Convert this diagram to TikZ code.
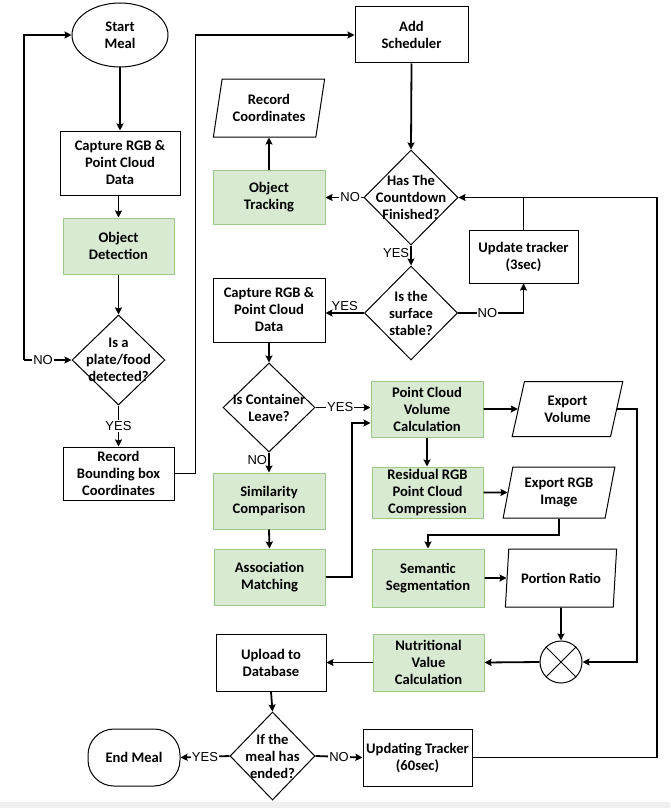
\documentclass[tikz,border=0pt]{standalone}
\usepackage{fontspec}
\setmainfont{Carlito}
\newfontfamily\labfont{Liberation Sans}
\usetikzlibrary{shapes.geometric,arrows.meta}
\definecolor{gfill}{RGB}{217,234,211}
\definecolor{gdraw}{RGB}{157,200,138}
\begin{document}
\begin{tikzpicture}[x=1pt,y=-1pt,
  txt/.style={font=\bfseries\fontsize{14.6}{17}\selectfont, align=center, inner sep=0pt},
  box/.style={txt, draw, line width=1pt, rectangle},
  gbox/.style={box, draw=gdraw, fill=gfill},
  io/.style={txt, draw, line width=1pt, trapezium, trapezium left angle=76, trapezium right angle=104, trapezium stretches=true},
  dia/.style={draw, line width=1pt, diamond, inner sep=0pt},
  ln/.style={line width=1.8pt},
  arr/.style={ln, -{Stealth[length=7pt,width=7pt,inset=1pt]}},
  lab/.style={font=\labfont\fontsize{13}{15}\selectfont, fill=white, inner sep=1pt}
]
\useasboundingbox (0,0) rectangle (670,808);
\fill[black!6] (0,802) rectangle (670,808);

% left column
\node[txt, draw, line width=1pt, ellipse, minimum width=96, minimum height=64] (start) at (120,35) {Start\\Meal};
\node[box, minimum width=120, minimum height=64] (cap1) at (120,163) {Capture RGB \&\\Point Cloud\\Data};
\node[gbox, minimum width=111, minimum height=56] (od) at (118.5,246) {Object\\Detection};
\node[dia, minimum width=93, minimum height=90] (d1) at (118.5,360) {};
\node[txt] (d1t) at (d1) {Is a\\plate/food\\detected?};
\node[box, minimum width=111, minimum height=53] (rbb) at (118.5,473.5) {Record\\Bounding box\\Coordinates};

% top middle
\node[box, minimum width=113, minimum height=56] (as) at (411.5,35) {Add\\Scheduler};
\node[dia, minimum width=94, minimum height=95] (d2) at (411,197.5) {};
\node[txt] (d2t) at (d2) {Has The\\Countdown\\Finished?};
\node[gbox, minimum width=112, minimum height=54] (ot) at (269,197.5) {Object\\Tracking};
\node[io, minimum width=112, minimum height=58] (rc) at (269,108) {Record\\Coordinates};
\node[box, minimum width=109, minimum height=53] (ut) at (523.5,256.5) {Update tracker\\(3sec)};
\node[dia, minimum width=93, minimum height=94] (d3) at (411,313) {};
\node[txt] (d3t) at (d3) {Is the\\surface\\stable?};

% middle column
\node[box, minimum width=112, minimum height=64] (cap2) at (269,310) {Capture RGB \&\\Point Cloud\\Data};
\node[dia, minimum width=92, minimum height=89] (d4) at (269,407.5) {};
\node[txt] (d4t) at (d4) {Is Container\\Leave?};
\node[gbox, minimum width=112, minimum height=56] (sim) at (269,501) {Similarity\\Comparison};
\node[gbox, minimum width=111, minimum height=56] (am) at (269.5,577) {Association\\Matching};

% right column
\node[gbox, minimum width=112, minimum height=56] (pcv) at (427,409) {Point Cloud\\Volume\\Calculation};
\node[io, minimum width=111, minimum height=55] (ev) at (567.5,409) {Export\\Volume};
\node[gbox, minimum width=111, minimum height=51] (res) at (427.5,492.5) {Residual RGB\\Point Cloud\\Compression};
\node[io, minimum width=112, minimum height=51] (ergb) at (559,492.5) {Export RGB\\Image};
\node[gbox, minimum width=112, minimum height=58] (sem) at (428,578) {Semantic\\Segmentation};
\node[io, minimum width=112, minimum height=58] (pr) at (561,578) {Portion Ratio};
\node[draw, line width=1pt, circle, minimum size=42, inner sep=0pt] (circ) at (561,662) {};
\draw[line width=1pt] (circ.north west) -- (circ.south east) (circ.north east) -- (circ.south west);
\node[gbox, minimum width=111, minimum height=57] (nvc) at (428.5,662.5) {Nutritional\\Value\\Calculation};

% bottom
\node[box, minimum width=110, minimum height=57] (up) at (271,662.5) {Upload to\\Database};
\node[dia, minimum width=85, minimum height=88] (d5) at (272.5,756) {};
\node[txt] (d5t) at (d5) {If the\\meal has\\ended?};
\node[box, rounded corners=26pt, minimum width=92, minimum height=57] (em) at (134,757.5) {End Meal};
\node[box, minimum width=109, minimum height=57] (utr) at (417.5,757.5) {Updating Tracker\\(60sec)};

\coordinate (L1) at (24,360);
\coordinate (R1) at (657,757.5);
\coordinate (j1) at (0,535);

% connectors
\draw[arr] (start.south) -- (cap1.north);
\draw[arr] (od.north |- cap1.south) -- (od.north);
\draw[arr] (od.south) -- (d1.north);
\draw[arr] (d1.south) -- node[lab, midway]{YES} (rbb.north);
\draw[arr] (L1) |- (start.west);
\draw[arr] (L1) -- node[lab, pos=0.4]{NO} (d1.west);
\draw[arr] (rbb.east) -- ++(21,0) |- (as.west);
\draw[arr] (as.south) -- (d2.north);
\draw[arr] (d2.west) -- node[lab, pos=0.35]{NO} (ot.east);
\draw[arr] (ot.north) -- (rc.south);
\draw[arr] (d2.south) -- node[lab, pos=0.4, left, fill=none]{YES} (d3.north);
\draw[arr] (d3.west) -- node[lab, midway, above, fill=none]{YES} (d3.west -| cap2.east);
\draw[arr] (d3.east) -- node[lab, pos=0.45]{NO} (ut.south |- d3.east) -- (ut.south);
\draw[ln] (ut.north) -- (ut.north |- d2.east);
\draw[arr] (utr.east) -- (R1) |- (d2.east);
\draw[arr] (cap2.south) -- (d4.north);
\draw[arr] (d4.east) -- node[lab, pos=0.45]{YES} (d4.east -| pcv.west);
\draw[arr] (d4.south) -- node[lab, pos=0.4, left, fill=none]{NO} (sim.north);
\draw[arr] (sim.south) -- (am.north);
\draw[arr] (am.east) -- (352,577) |- ([yshift=-14pt]pcv.west);
\draw[arr] (pcv.east) -- (ev);
\draw[arr] (ev.east) -- (637,409) |- (circ.east);
\draw[arr] (pcv.south) -- (pcv.south |- res.north);
\draw[arr] (res.east) -- (ergb);
\draw[arr] (ergb.south) -- (ergb.south |- j1) -| (sem.north);
\draw[arr] (sem.east) -- (pr);
\draw[arr] (pr.south) -- (circ.north);
\draw[arr] (circ.west) -- (nvc.east);
\draw[arr] (nvc.west) -- (up.east);
\draw[arr] (up.south) -- (d5.north);
\draw[arr] (d5.west) -- node[lab, midway]{YES} (em.east);
\draw[arr] (d5.east) -- node[lab, midway]{NO} (utr.west);
\end{tikzpicture}
\end{document}
